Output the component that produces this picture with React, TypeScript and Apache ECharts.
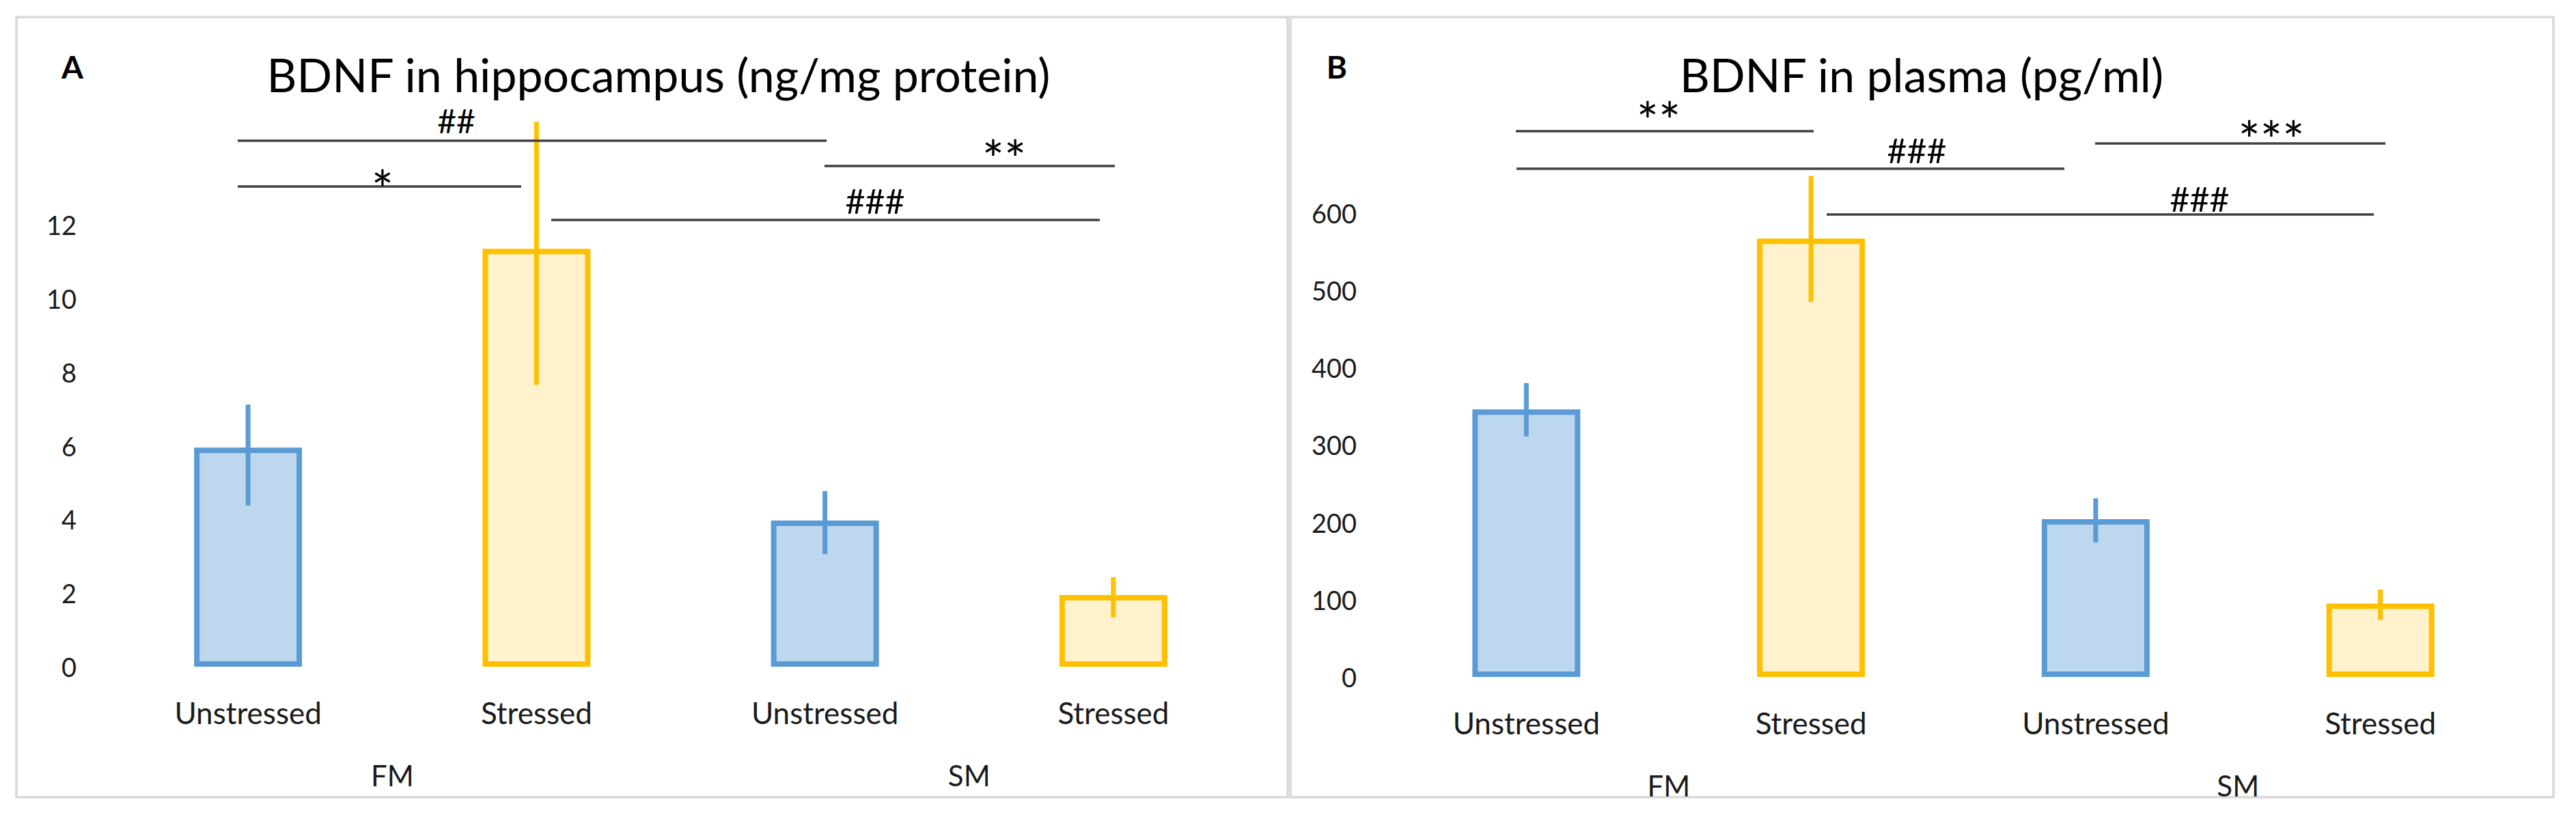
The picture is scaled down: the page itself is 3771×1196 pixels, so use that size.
import React, { useEffect, useRef } from "react";
import * as echarts from "echarts";

// ---- data ----
const categories = ["Unstressed", "Stressed", "Unstressed", "Stressed"];
const groups = ["FM", "SM"];

const hippoTitle = "BDNF in hippocampus (ng/mg protein)";
const hippoMeans = [5.95, 11.35, 3.97, 1.95];
const hippoLow = [4.38, 7.66, 3.06, 1.34];
const hippoHigh = [7.12, 14.8, 4.77, 2.43];
const hippoAxis = { min: 0, max: 16, interval: 2, maxLabel: 12 };

const plasmaTitle = "BDNF in plasma (pg/ml)";
const plasmaMeans = [346, 567, 204, 95];
const plasmaLow = [311, 485, 174, 74];
const plasmaHigh = [380, 648, 231, 113];
const plasmaAxis = { min: 0, max: 700, interval: 100, maxLabel: 600 };

const panelLetters = ["A", "B"];
const sigA = ["##", "*", "**", "###"];
const sigB = ["**", "###", "***", "###"];

// ---- styles ----
const FONT = "Lato";
const fills = ["#BDD7EE", "#FFF2CC", "#BDD7EE", "#FFF2CC"];
const borders = ["#5B9BD5", "#FFC000", "#5B9BD5", "#FFC000"];

export default function App() {
  const ref = useRef<HTMLDivElement>(null);

  useEffect(() => {
    document.body.style.margin = "0";
    const chart = echarts.init(ref.current!, null, { renderer: "svg" });

    const grids = [
      { left: 152, top: 976 - 16 * 53.9, width: 1689, height: 16 * 53.9 },
      { left: 2026, top: 991 - 700 * 1.132, width: 1667, height: 700 * 1.132 },
    ];

    const catAxis = (gi: number) => ({
      type: "category",
      gridIndex: gi,
      data: categories,
      axisLine: { show: false },
      axisTick: { show: false },
      axisLabel: {
        margin: 45,
        fontFamily: FONT,
        fontSize: 44,
        color: "#1a1a1a",
      },
    });
    const groupAxis = (gi: number) => ({
      type: "category",
      gridIndex: gi,
      position: "bottom",
      data: groups,
      axisLine: { show: false },
      axisTick: { show: false },
      axisLabel: {
        margin: 138,
        fontFamily: FONT,
        fontSize: 42,
        color: "#1a1a1a",
      },
    });
    const valAxis = (gi: number, a: any) => ({
      type: "value",
      gridIndex: gi,
      min: a.min,
      max: a.max,
      interval: a.interval,
      splitLine: { show: false },
      axisLine: { show: false },
      axisTick: { show: false },
      axisLabel: {
        margin: 40,
        fontFamily: FONT,
        fontSize: 38,
        color: "#1a1a1a",
        formatter: (v: number) => (v <= a.maxLabel ? String(v) : ""),
      },
    });

    const barSeries = (xi: number, yi: number, means: number[]) => ({
      type: "bar",
      xAxisIndex: xi,
      yAxisIndex: yi,
      barWidth: 158,
      data: means.map((v, i) => ({
        value: v,
        itemStyle: { color: fills[i], borderColor: borders[i], borderWidth: 8 },
      })),
      z: 2,
    });
    const errSeries = (xi: number, yi: number, low: number[], high: number[]) => ({
      type: "custom",
      xAxisIndex: xi,
      yAxisIndex: yi,
      z: 3,
      encode: { x: 0, y: [1, 2] },
      data: low.map((l, i) => [i, l, high[i]]),
      renderItem: (params: any, api: any) => {
        const x = api.value(0);
        const p1 = api.coord([x, api.value(1)]);
        const p2 = api.coord([x, api.value(2)]);
        return {
          type: "line",
          shape: { x1: p1[0], y1: p1[1], x2: p2[0], y2: p2[1] },
          style: { stroke: borders[params.dataIndex], lineWidth: 7 },
        };
      },
    });

    const txt = (t: string, x: number, y: number, size: number, bold = false) => ({
      type: "text",
      x,
      y,
      style: {
        text: t,
        fontFamily: FONT,
        fontSize: size,
        fontWeight: bold ? "bold" : "normal",
        fill: "#000",
        align: "center",
        verticalAlign: "middle",
      },
      z: 10,
    });
    const ln = (x1: number, x2: number, y: number) => ({
      type: "line",
      shape: { x1, y1: y, x2, y2: y },
      style: { stroke: "#404040", lineWidth: 3.5 },
      z: 10,
    });

    const AST = 76;
    const H2 = 48;
    const H3 = 50;

    const graphic: any[] = [
      {
        type: "rect",
        shape: { x: 24, y: 25, width: 1861, height: 1142 },
        style: { fill: "none", stroke: "#d9d9d9", lineWidth: 3.5 },
      },
      {
        type: "rect",
        shape: { x: 1889, y: 25, width: 1849, height: 1142 },
        style: { fill: "none", stroke: "#d9d9d9", lineWidth: 3.5 },
      },
      txt(panelLetters[0], 106, 97, 46, true),
      txt(panelLetters[1], 1957, 97, 46, true),
      txt(hippoTitle, 964, 108, 68),
      txt(plasmaTitle, 2813, 108, 68),
      // panel A significance
      ln(348, 1210, 206),
      txt(sigA[0], 668, 176, H2),
      ln(348, 763, 273),
      txt(sigA[1], 560, 275, AST),
      ln(1207, 1632, 243),
      txt(sigA[2], 1470, 231, AST),
      ln(807, 1610, 322),
      txt(sigA[3], 1281, 294, H3),
      // panel B significance
      ln(2219, 2655, 192),
      txt(sigB[0], 2428, 175, AST),
      ln(2220, 3022, 247),
      txt(sigB[1], 2806, 220, H3),
      ln(3067, 3492, 210),
      txt(sigB[2], 3325, 203, AST),
      ln(2674, 3475, 314),
      txt(sigB[3], 3220, 291, H3),
    ];

    chart.setOption({
      animation: false,
      backgroundColor: "#fff",
      grid: grids,
      xAxis: [catAxis(0), groupAxis(0), catAxis(1), groupAxis(1)],
      yAxis: [valAxis(0, hippoAxis), valAxis(1, plasmaAxis)],
      series: [
        barSeries(0, 0, hippoMeans),
        errSeries(0, 0, hippoLow, hippoHigh),
        barSeries(2, 1, plasmaMeans),
        errSeries(2, 1, plasmaLow, plasmaHigh),
      ],
      graphic,
    });

    return () => chart.dispose();
  }, []);

  return <div ref={ref} style={{ width: 3771, height: 1196 }} />;
}
